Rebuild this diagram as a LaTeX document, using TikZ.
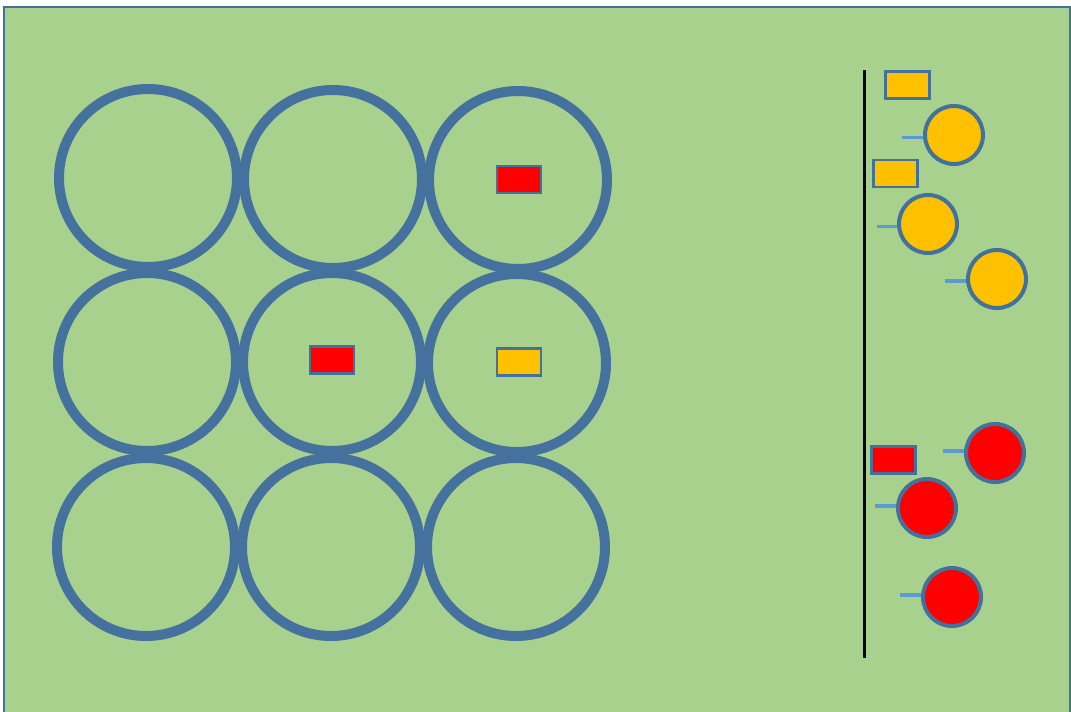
\documentclass[tikz,border=0pt]{standalone}
\definecolor{bgfill}{HTML}{A9D18E}
\definecolor{edge}{HTML}{41719C}
\definecolor{ring}{HTML}{44719E}
\definecolor{gold}{HTML}{FFC000}
\definecolor{redfill}{HTML}{FF0000}
\definecolor{stick}{HTML}{5B9BD5}
\tikzset{
  bigring/.style={circle, draw=ring, line width=10pt, minimum size=178pt, inner sep=0pt},
  tag/.style={rectangle, draw=edge, line width=2.5pt, minimum width=44pt, minimum height=27pt, inner sep=0pt},
  ball/.style={circle, draw=edge, line width=4pt, minimum size=58pt, inner sep=0pt},
  stickline/.style={draw=stick, line width=3.5pt},
}
\begin{document}
\begin{tikzpicture}[x=1pt,y=-1pt]
\useasboundingbox (0,0) rectangle (1071,712);
\begin{scope}
\clip (0,0) rectangle (1071,712);
\draw[fill=bgfill, draw=edge, line width=2pt] (4,6.5) rectangle (1070,730);
\end{scope}
% grid of rings
\node[bigring] (r11) at (148,178) {};
\node[bigring] (r12) at (333,179) {};
\node[bigring] (r13) at (518,180) {};
\node[bigring] (r21) at (147,362) {};
\node[bigring] (r22) at (332,362) {};
\node[bigring] (r23) at (517,363) {};
\node[bigring] (r31) at (146,547) {};
\node[bigring] (r32) at (331,547) {};
\node[bigring] (r33) at (516,547) {};
% tags inside rings
\node[tag, fill=redfill] (t13) at (519,179.5) {};
\node[tag, fill=redfill] (t22) at (332,360) {};
\node[tag, fill=gold] (t23) at (519,362) {};
% vertical bar
\coordinate (bartop) at (864,70);
\coordinate (barbot) at (864,658);
\draw[black, line width=3pt] (bartop) -- (barbot);
% yellow group
\node[tag, fill=gold] (ya) at (907.5,85) {};
\node[tag, fill=gold] (yb) at (895.5,173.5) {};
\node[ball, fill=gold] (y1) at (954,135) {};
\node[ball, fill=gold] (y2) at (928,224) {};
\node[ball, fill=gold] (y3) at (997,279) {};
\coordinate (s1) at (902,137.5);
\coordinate (s2) at (877,226.5);
\coordinate (s3) at (945,281);
\draw[stickline] (s1) -- (s1 -| y1.west);
\draw[stickline] (s2) -- (s2 -| y2.west);
\draw[stickline] (s3) -- (s3 -| y3.west);
% red group
\node[tag, fill=redfill] (ra) at (893.5,460) {};
\node[ball, fill=redfill] (q1) at (995,453) {};
\node[ball, fill=redfill] (q2) at (927,508) {};
\node[ball, fill=redfill] (q3) at (952,597) {};
\coordinate (p1) at (943,451);
\coordinate (p2) at (875,506);
\coordinate (p3) at (900,595);
\draw[stickline] (p1) -- (p1 -| q1.west);
\draw[stickline] (p2) -- (p2 -| q2.west);
\draw[stickline] (p3) -- (p3 -| q3.west);
\end{tikzpicture}
\end{document}
